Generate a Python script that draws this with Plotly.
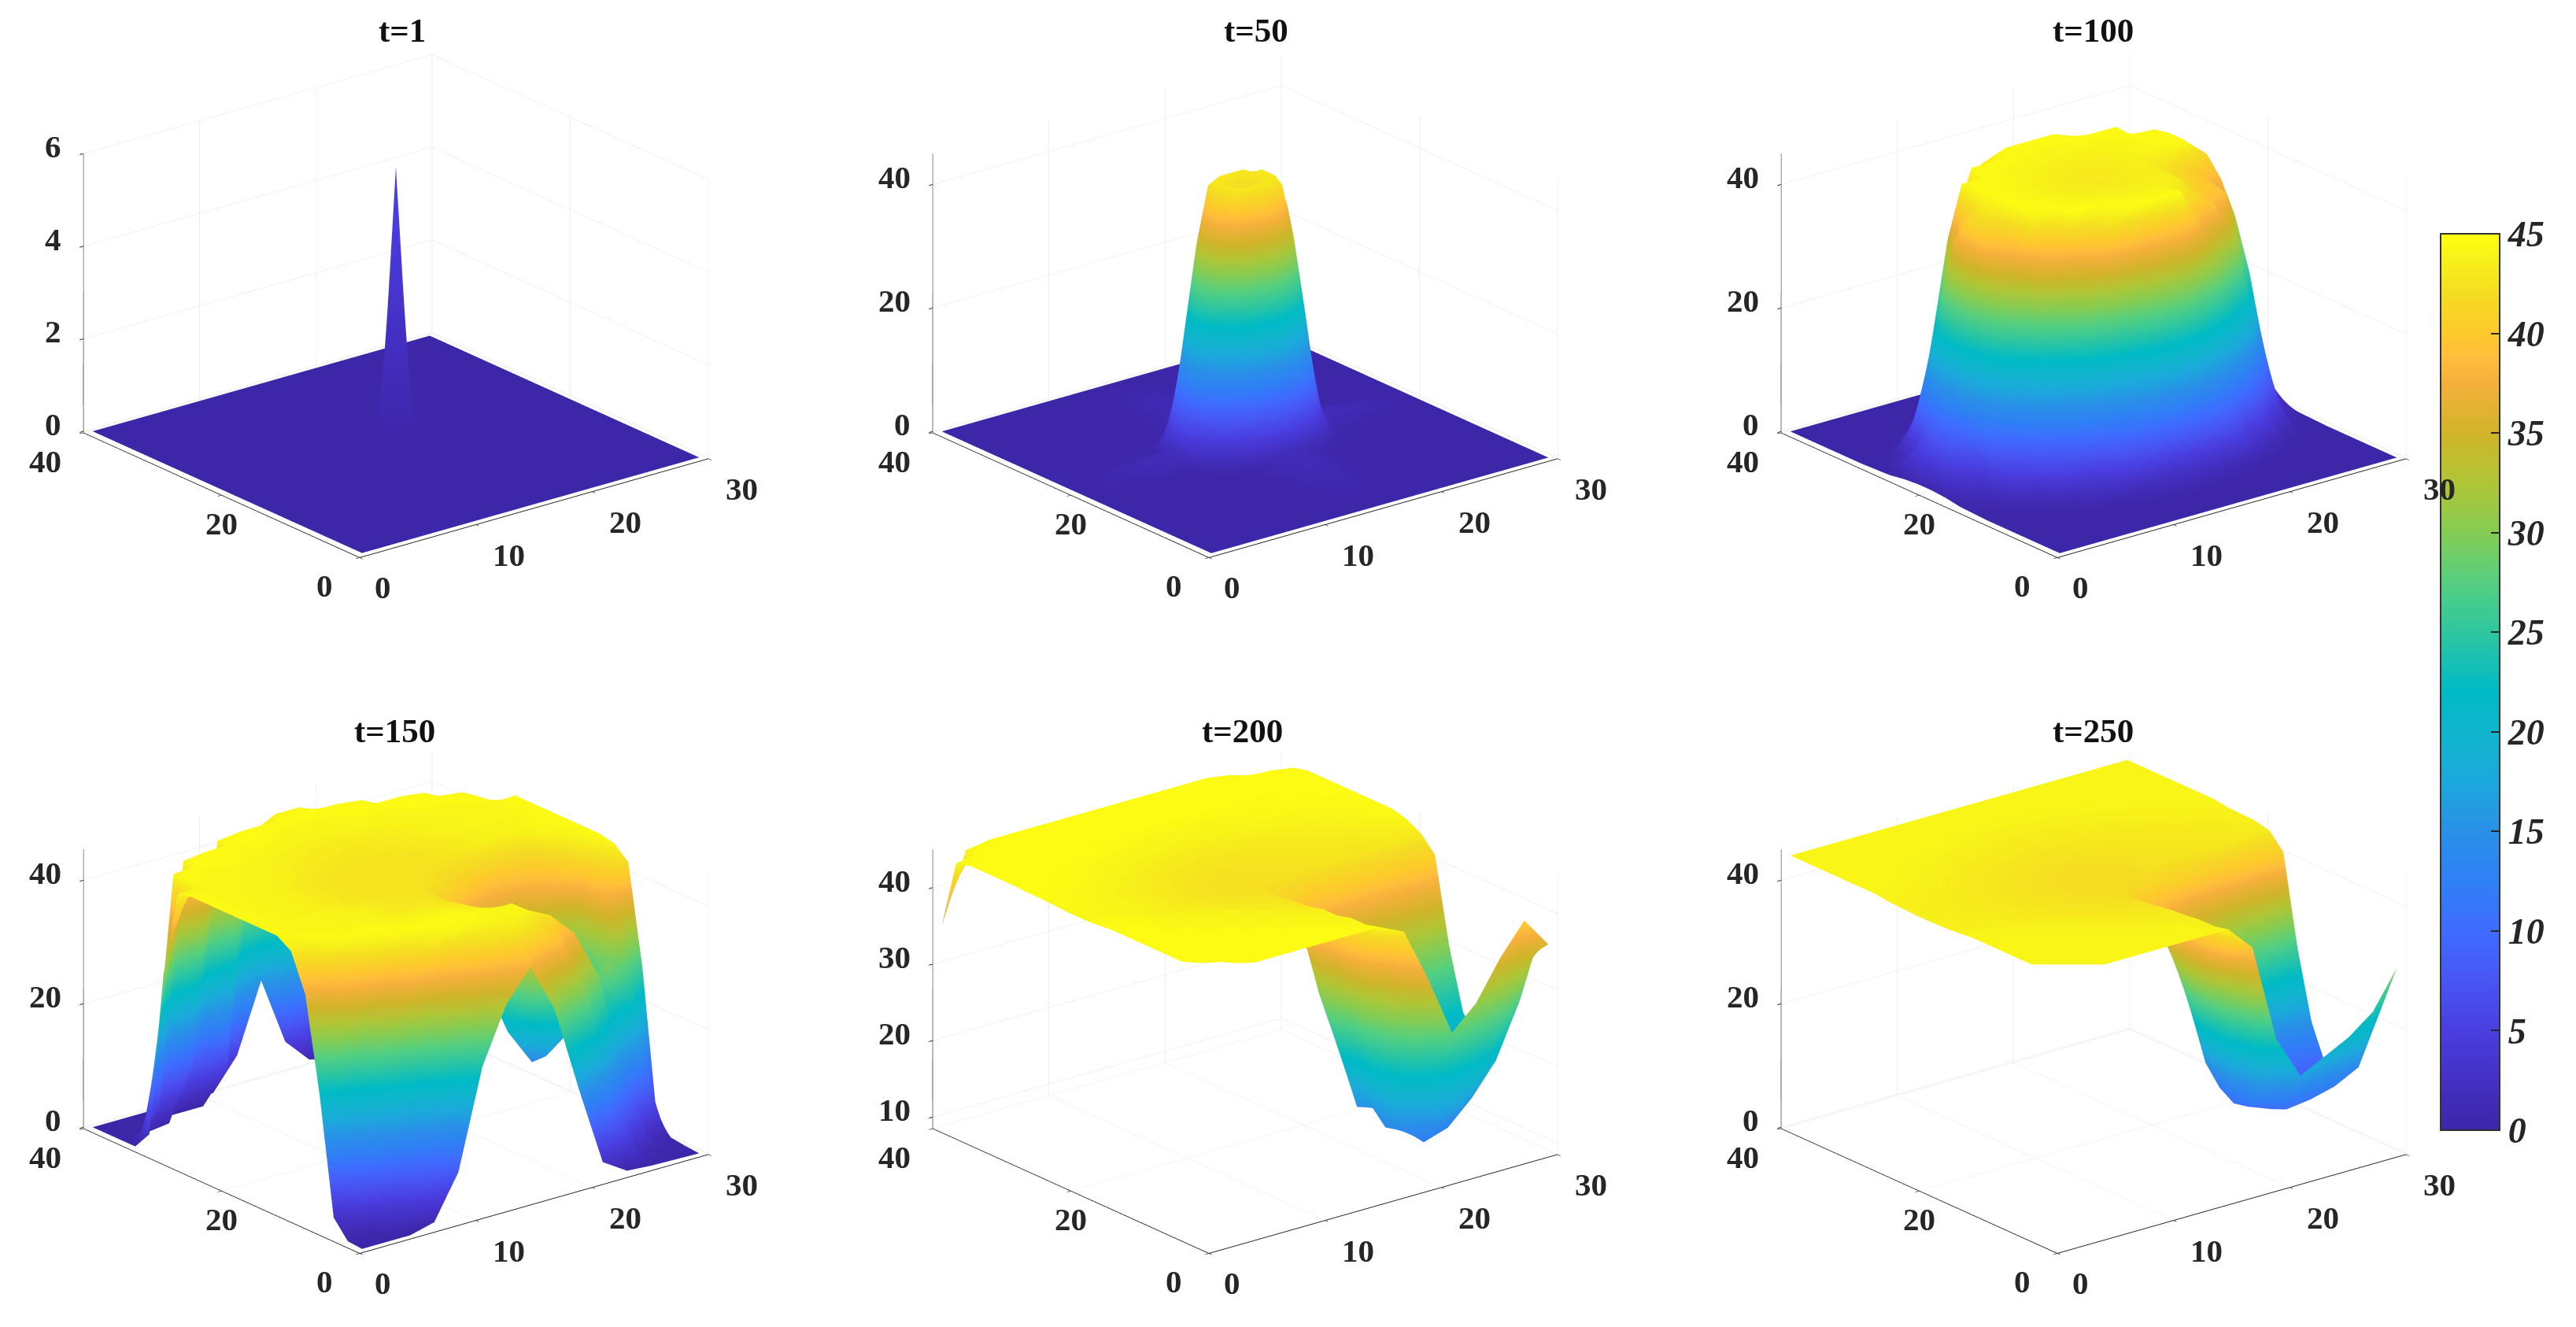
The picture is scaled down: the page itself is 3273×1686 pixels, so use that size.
import plotly.graph_objects as go

W, H = 3273, 1686
titles = ["t=1", "t=50", "t=100", "t=150", "t=200", "t=250"]
x_std = [0.5, 2.57, 4.64, 6.71, 8.79, 10.86, 12.93, 15, 17.07, 19.14, 21.21, 23.29, 25.36, 27.43, 29.5]
y_std = [0.5, 2.55, 4.61, 6.66, 8.71, 10.76, 12.82, 14.87, 16.92, 18.97, 21.03, 23.08, 25.13, 27.18, 29.24, 31.29, 33.34, 35.39, 37.45, 39.5]

x_t1 = [0.5, 13.6, 15, 16.4, 29.5]
y_t1 = [0.5, 18.6, 20, 21.4, 39.5]
z_t1 = [[0, 0, 0, 0, 0], [0, 0, 0, 0, 0], [0, 0, 6, 0, 0], [0, 0, 0, 0, 0], [0, 0, 0, 0, 0]]

x_t50 = [0.5, 9, 10, 11, 12, 13, 14, 15, 16, 17, 18, 19, 20, 21, 29.5]
y_t50 = [0.5, 14, 15, 16, 17, 18, 19, 20, 21, 22, 23, 24, 25, 26, 39.5]
z_t50 = [
 [0]*15,
 [0,0,0,.2,.5,1,1.8,2,1.8,1,.5,.2,0,0,0],
 [0,0,.2,1,3,6,9,11,9,6,3,1,.2,0,0],
 [0,.2,1,4,11,20,25,27,25,20,11,4,1,.2,0],
 [0,.5,3,11,23,33,38,40,38,33,23,11,3,.5,0],
 [0,1,6,20,33,42,43,43,43,42,33,20,6,1,0],
 [0,1.8,9,25,38,43,42.5,42.2,42.5,43,38,25,9,1.8,0],
 [0,2,11,27,40,43,42.2,42,42.2,43,40,27,11,2,0],
 [0,1.8,9,25,38,43,42.5,42.2,42.5,43,38,25,9,1.8,0],
 [0,1,6,20,33,42,43,43,43,42,33,20,6,1,0],
 [0,.5,3,11,23,33,38,40,38,33,23,11,3,.5,0],
 [0,.2,1,4,11,20,25,27,25,20,11,4,1,.2,0],
 [0,0,.2,1,3,6,9,11,9,6,3,1,.2,0,0],
 [0,0,0,.2,.5,1,1.8,2,1.8,1,.5,.2,0,0,0],
 [0]*15,
]

z_t100 = [
 [0]*15,
 [0]*15,
 [0,0,0,0,0,.1,.2,.2,.2,.1,0,0,0,0,0],
 [0,0,0,.1,.6,1.4,2.5,3,2.5,1.4,.6,.1,0,0,0],
 [0,0,.2,1.4,6,17,25,28,25,17,6,1.4,.2,0,0],
 [0,.2,1.6,11.5,31,43,44.5,44.5,44.5,36,25,10,1.6,.2,0],
 [.1,.9,10,34,44.5,44.5,44.2,44,44,42,39,30,10,.9,.1],
 [.2,3,25,44,44.3,44,43.8,43.6,43.6,43.5,40,39,25,3,.2],
 [.6,8,36,44.5,44.2,43.8,43.4,43.2,43.4,43.5,41,39.5,33,8,.6],
 [.8,11.5,41,44.5,44,43.6,43.2,43,43.2,43.4,42,40,38,11.5,.8],
 [.8,11.5,41,44.5,44,43.6,43.2,43,43.2,43.6,44,44.5,41,11.5,.8],
 [.6,8,36,44.5,44.2,43.8,43.4,43.2,43.4,43.8,44.2,44.5,36,8,.6],
 [.2,3,25,44,44.3,44,43.8,43.6,43.8,44,44.3,44,25,3,.2],
 [.1,.9,10,34,44.5,44.5,44.2,44,44.2,44.5,44.5,34,10,.9,.1],
 [0,.2,1.6,11.5,31,43,44.5,44.5,44.5,43,31,11.5,1.6,.2,0],
 [0,0,.2,1.4,6,17,25,28,25,17,6,1.4,.2,0,0],
 [0,0,0,.1,.6,1.4,2.5,3,2.5,1.4,.6,.1,0,0,0],
 [0,0,0,0,0,.1,.2,.2,.2,.1,0,0,0,0,0],
 [0]*15,
 [0]*15,
]

z_t150 = [
 [0,0,0,1,8,24,33,38,30,16,3,.5,.2,.1,0],
 [.2,1,5,16,30,38,42,43,42,38,28,12,2,.5,.2],
 [3,12,28,38,43,44,44,44,44,42,38,30,14,2,.5],
 [22,36,42,44,44.5,44.5,44.5,44,44,30,22,26,30,24,3],
 [37,43.5,44.5,44.5,44,44,44,43.5,42,24,16,19,27,34,26],
 [43,44.5,44,44,43.8,43.6,43.4,43,38,20,14,16,24,38,42],
 [44.5,44,44,43.8,43.6,43,43,42.5,37,24,18,20,25,40,44],
 [44.5,44,44,43.8,43.6,43,42.6,42.5,39,35,31,33,37,42,44.5],
 [44.5,44,43.8,43.6,43,42.6,42.5,42.5,42,40,38,38,40,43,44.5],
 [44.5,44,43.8,43.6,43,42.6,42.4,42.4,42.4,42,41.5,41.5,42,44,44.5],
 [44.5,44,43.8,43.6,43,42.6,42.4,42.4,42.4,42.6,43,43.6,43.8,44,44.5],
 [44.5,44,43.8,43.6,43,42.6,42.4,42.4,42.4,42.6,43,43.6,43.8,44,44.5],
 [44.5,44,44,43.8,43.6,43,42.6,42.5,42.6,43,43.6,43.8,44,44,44.5],
 [44,44,44,43.8,43.6,43.2,43,42.8,43,43.2,43.6,43.8,44,44,44.5],
 [30,44.5,44,44,43.8,43.6,43.4,43.2,43.4,43.6,43.8,44,44,44.5,42],
 [3,44,44.5,44.5,44,44,43.8,43.8,43.8,44,44,44.5,44.5,44,4],
 [0,5,44,44.5,44.5,44.5,44,44,44,44.5,44.5,44.5,44,5,0],
 [0,0,.5,10,44,44.5,44.5,44.5,44.5,44.5,44,10,.5,0,0],
 [0,0,0,0,0,5,42,44,44,42,10,0,0,0,0],
 [0,0,0,0,0,0,5,16,5,1,0,0,0,0,0],
]

z_t200 = [
 [42,44,44.5,44.5,44.5,44.5,44.5,44.5,43,36,28,31,36,40,36],
 [44,44.5,44.5,44.5,44.5,44.5,44.5,44,40,24,16,17,21,28,34],
 [44.5,44.5,44.5,44.5,44.5,44.5,44,44,34,15,12,13,16,20,27],
 [44.5,44.5,44.5,44.5,44.5,44,44,43.5,30,14,12.5,13,15,18,22],
 [44.5,44.5,44.5,44.5,44,44,43.8,43.5,30,16,14,14,15,17,20],
 [44.5,44.5,44.5,44,44,43.8,43.5,43,26,15,14,15,16,18,20],
 [44.5,44.5,44,44,43.8,43.5,43,42.8,30,20,18,19,20,21,22],
 [44.5,44.5,44,43.8,43.5,43,42.8,42.5,39,30,26,28,30,31,30],
 [44.3,44.3,43.8,43.5,43.2,42.8,42.5,42.3,41,40,40,40,40,40,41],
 [44.2,44,43.8,43.5,43,42.6,42.3,42.3,42.3,42.3,42.5,42.6,42.8,43,43],
 [44.2,44,43.8,43.5,43,42.6,42.3,42.3,42.3,42.5,42.6,42.8,43,43.5,44],
 [44.3,44.2,43.8,43.5,43.2,42.8,42.5,42.3,42.4,42.6,42.8,43,43.4,44,44.5],
 [44.4,44.2,44,43.8,43.4,43,42.8,42.6,42.6,42.8,43,43.4,43.8,44,44.5],
 [44.4,44.5,44.2,44,43.8,43.4,43.2,43,43.2,43.4,43.6,43.8,44,44.2,44.5],
 [44.5,44.5,44.5,44.2,44,43.8,43.8,43.6,43.8,43.8,44,44.2,44.2,44.5,44.5],
 [44.5,44.5,44.5,44.5,44.5,44.2,44,44,44,44,44.2,44.2,44.5,44.5,44.5],
 [44.5]*15,
 [44.5]*15,
 [44,44.5,44.5,44.5,44.5,44.5,44.5,44.5,44.5,44.5,44.5,44.5,44.5,44.5,44],
 [35,44,44.5,44.5,44.5,44.5,44.5,44.5,44.5,44.5,44.5,44.5,44,43,41],
]

z_t250 = [
 [44,44,44,44,44,44,44,44,40,24,17,19,21,24,30],
 [44,44,44,44,44,44,44,43.5,35,14,10.5,11,12,14,23],
 [44,44,44,44,44,43.8,43.8,43.5,30,11,9.5,10,10.5,11.5,18],
 [44,44,44,44,43.8,43.6,43.4,43.2,28,10.5,9.5,9.5,10,10.5,13],
 [44,44,44,43.8,43.6,43.4,43.2,43,28,12,10,9.5,9.5,9.5,10],
 [44,44,43.8,43.6,43.4,43.2,42.9,42.6,30,15,11.5,10.5,9.5,9,9],
 [44,43.8,43.6,43.4,43.2,42.9,42.6,42.3,34,24,20,18,15,13,15],
 [43.8,43.6,43.4,43.2,42.9,42.6,42.3,42,39,36,33,31,29,28,26],
 [43.6,43.4,43.3,43,42.7,42.4,42.2,42,41.5,41,40.5,40,40,40,40.5],
 [43.5,43.4,43.2,42.9,42.6,42.3,42.1,42,42,42.2,42.4,42.6,42.8,43,43],
 [43.5,43.4,43.2,42.9,42.6,42.3,42.1,42,42.1,42.3,42.5,42.7,43,43.2,43.5],
 [43.6,43.4,43.3,43,42.7,42.4,42.2,42.1,42.2,42.4,42.7,42.9,43.1,43.3,43.6],
 [43.7,43.6,43.4,43.1,42.9,42.6,42.4,42.3,42.4,42.6,42.9,43.1,43.4,43.6,43.7],
 [44,43.7,43.6,43.3,43.1,42.9,42.8,42.6,42.8,42.9,43.1,43.4,43.6,43.7,44],
 [44,44,43.7,43.6,43.4,43.3,43.1,43,43.1,43.3,43.4,43.6,43.7,44,44],
 [44,44,44,43.8,43.6,43.5,43.4,43.3,43.4,43.5,43.6,43.8,44,44,44],
 [44,44,44,44,44,43.8,43.7,43.6,43.7,43.8,44,44,44,44,44],
 [44]*15,
 [44]*15,
 [44]*15,
]

panels = [
 (x_t1, y_t1, z_t1, [-0.03, 6], [0, 2, 4, 6]),
 (x_t50, y_t50, z_t50, [-0.2, 45], [0, 20, 40]),
 (x_std, y_std, z_t100, [-0.2, 45], [0, 20, 40]),
 (x_std, y_std, z_t150, [-0.2, 45], [0, 20, 40]),
 (x_std, y_std, z_t200, [8.5, 45], [10, 20, 30, 40]),
 (x_std, y_std, z_t250, [-0.2, 45], [0, 20, 40]),
]
x_ticks = [0, 10, 20, 30]
y_ticks = [0, 20, 40]
col_centers = [503, 1582, 2660]
row_centers = [389, 1273]
title_pos = [(511, 38), (1596, 38), (2659, 38), (501, 929), (1578, 929), (2659, 929)]

cb_values = [0, 2.5, 5, 7.5, 10, 12.5, 15, 17.5, 20, 22, 25, 27.5, 30, 32.5, 35, 37.5, 39, 40, 42, 44, 45]
cb_colors = ["#3d26a8", "#4430c4", "#4a3ee0", "#4856f4", "#3f6cff", "#2f80f5", "#2a90e8", "#1ca8dc",
             "#0fb5cc", "#00bac6", "#2fc6a0", "#55cf80", "#85cc55", "#b0c535", "#d2b42a", "#f5b03c",
             "#ffc03a", "#fdca2c", "#f5dc22", "#f8f418", "#ffff10"]
colorscale = [[v / 45, c] for v, c in zip(cb_values, cb_colors)]
cb_ticks = [0, 5, 10, 15, 20, 25, 30, 35, 40, 45]

FONT = "Liberation Serif"
DOM_W, DOM_H = 830, 660
EYE = (-0.580, -0.732, 0.358)
EYE_SCALE = 1.17
tick_font = dict(family=FONT, size=41, color="#262626", weight="bold")

fig = go.Figure()
layout = dict(
    width=W, height=H, margin=dict(l=0, r=0, t=0, b=0), paper_bgcolor="white", autosize=False,
    coloraxis=dict(cmin=0, cmax=45, colorscale=colorscale,
        colorbar=dict(x=3100.5 / W, xanchor="left", y=1 - 297 / H, yanchor="top",
                      len=1139 / H, lenmode="fraction", thickness=75, thicknessmode="pixels",
                      outlinecolor="#333333", outlinewidth=2, xpad=0, ypad=0,
                      tickvals=cb_ticks, ticks="inside", ticklen=12, tickcolor="#262626", tickwidth=2,
                      tickfont=dict(family=FONT, size=46, color="#262626", style="italic", weight="bold"))),
    annotations=[],
)
def axis(rng, ticks):
    return dict(range=rng, tickvals=ticks, showticklabels=False, title=dict(text=""), showbackground=False,
                showgrid=True, gridcolor="#e2e2e2", gridwidth=1, zeroline=False, showline=True, linecolor="#262626",
                linewidth=2, ticks="outside", ticklen=6, tickcolor="#262626", tickwidth=2, showspikes=False, autorange=False)

def tick_note(x, y, z, text, dx, dy, anchor="center"):
    return dict(x=x, y=y, z=z, text=text, showarrow=False, xanchor=anchor, yanchor="middle",
                xshift=dx, yshift=dy, font=tick_font)

for i, (xs, ys, zs, zr, zt) in enumerate(panels):
    name = "scene" if i == 0 else f"scene{i+1}"
    fig.add_trace(go.Surface(x=xs, y=ys, z=zs, coloraxis="coloraxis", scene=name, hoverinfo="skip",
                             lighting=dict(ambient=1, diffuse=0, specular=0, fresnel=0, roughness=1)))
    cx, cy = col_centers[i % 3], row_centers[i // 3]
    notes = [tick_note(t, 0, zr[0], str(t), 30 if t == 0 else 42, -38) for t in x_ticks]
    notes += [tick_note(0, t, zr[0], str(t), {0: -44, 20: 0, 40: -48}[t], -36) for t in y_ticks]
    notes += [tick_note(0, 40, t, str(t), -26, 9, "right") for t in zt]
    layout[name] = dict(
        domain=dict(x=[(cx - DOM_W / 2) / W, (cx + DOM_W / 2) / W], y=[1 - (cy + DOM_H / 2) / H, 1 - (cy - DOM_H / 2) / H]),
        xaxis=axis([0, 30], x_ticks), yaxis=axis([0, 40], y_ticks), zaxis=axis(zr, zt),
        aspectmode="manual", aspectratio=dict(x=1.713, y=1.713, z=1.151),
        camera=dict(projection=dict(type="orthographic"), up=dict(x=0, y=0, z=1), center=dict(x=0, y=0, z=0),
                    eye=dict(x=EYE[0] * EYE_SCALE, y=EYE[1] * EYE_SCALE, z=EYE[2] * EYE_SCALE)),
        annotations=notes,
    )
    tx, ty = title_pos[i]
    layout["annotations"].append(dict(text=f"<b>{titles[i]}</b>", x=tx / W, y=1 - ty / H, xref="paper", yref="paper",
                                      xanchor="center", yanchor="middle", showarrow=False,
                                      font=dict(family=FONT, size=43, color="#111111")))
fig.update_layout(**layout)
fig.write_html("out.html", config=dict(displayModeBar=False), post_script="document.body.style.margin='0';")
